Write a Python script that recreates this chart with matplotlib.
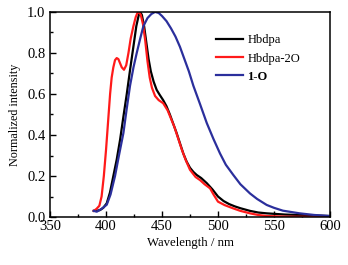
import numpy as np
import matplotlib
matplotlib.use('Agg')
import matplotlib.pyplot as plt
from matplotlib.ticker import MultipleLocator

# Hbdpa
wl_black = [389, 392, 394.6, 397.5, 400.6, 403.5, 406.5, 409.5, 412.5, 415.5, 418.5, 421.5, 424.4,
            427, 429, 430.4, 432, 434, 436, 438, 440, 442.5, 445.2, 448, 451, 454, 457, 460, 463,
            466, 469, 472, 475, 478, 481, 485, 490, 495, 500, 505, 510, 515, 520, 528.6, 536, 543.5,
            560, 573, 600]
y_black = [0.03, 0.031, 0.034, 0.045, 0.067, 0.12, 0.2, 0.28, 0.376, 0.49, 0.6, 0.72, 0.83,
           0.93, 0.98, 1.0, 0.985, 0.93, 0.85, 0.77, 0.71, 0.66, 0.62, 0.595, 0.57, 0.54, 0.5, 0.455, 0.41,
           0.36, 0.31, 0.27, 0.24, 0.22, 0.205, 0.19, 0.165, 0.135, 0.1, 0.078, 0.063, 0.052, 0.043, 0.03,
           0.022, 0.018, 0.012, 0.01, 0.005]

# Hbdpa-2O
wl_red = [389, 391.5, 394, 396, 398, 400, 402, 403.6, 405, 406.5, 408, 409.5, 411, 412.5, 414, 416,
          418, 420, 422, 424.4, 426.5, 428, 429.5, 431, 433, 435, 437, 439, 441, 443.8, 447, 451,
          455, 458, 461, 464, 467.6, 471, 475, 480, 484, 488, 492.9, 496, 500, 506, 513.7, 520,
          528.6, 536, 543.5, 560, 600]
y_red = [0.03, 0.04, 0.055, 0.1, 0.2, 0.33, 0.48, 0.6, 0.68, 0.73, 0.765, 0.775, 0.77, 0.75, 0.73, 0.718,
         0.74, 0.8, 0.87, 0.93, 0.975, 0.995, 1.0, 0.985, 0.94, 0.86, 0.76, 0.68, 0.63, 0.59, 0.57, 0.555,
         0.52, 0.48, 0.44, 0.39, 0.33, 0.28, 0.23, 0.195, 0.18, 0.16, 0.14, 0.11, 0.075, 0.058, 0.042, 0.03,
         0.018, 0.01, 0.005, 0.002, 0.0]

# 1-O
wl_blue = [389, 391.7, 396, 400.6, 404, 408, 411.5, 415.5, 418.5, 421.4, 424.5, 427.4, 430.5, 433.3,
           437, 440.5, 443.8, 447, 450, 454, 458, 462, 466, 470, 474, 478, 484, 490, 496, 501.8,
           507, 513.7, 520, 528.6, 535, 543.5, 550, 558, 573, 586, 600]
y_blue = [0.03, 0.026, 0.04, 0.06, 0.11, 0.2, 0.3, 0.41, 0.53, 0.64, 0.73, 0.8, 0.87, 0.93,
          0.97, 0.99, 1.0, 0.995, 0.98, 0.955, 0.92, 0.88, 0.83, 0.77, 0.71, 0.64, 0.55, 0.458, 0.38,
          0.31, 0.255, 0.205, 0.16, 0.115, 0.088, 0.059, 0.045, 0.031, 0.018, 0.01, 0.005]

plt.rcParams['font.family'] = ['Liberation Serif', 'DejaVu Serif']

fig = plt.figure(figsize=(3.48, 2.65), dpi=100)
ax = fig.add_axes([0.144, 0.181, 0.804, 0.774])

ax.plot(wl_black, y_black, color='black', lw=1.6, label='Hbdpa')
ax.plot(wl_red, y_red, color='#ff1a1a', lw=1.6, label='Hbdpa-2O')
ax.plot(wl_blue, y_blue, color='#2b2f9c', lw=1.6, label='1-O')

ax.set_xlim(350, 600)
ax.set_ylim(0, 1.0)
ax.xaxis.set_major_locator(MultipleLocator(50))
ax.xaxis.set_minor_locator(MultipleLocator(25))
ax.yaxis.set_major_locator(MultipleLocator(0.2))
ax.yaxis.set_minor_locator(MultipleLocator(0.1))
ax.tick_params(which='both', direction='in', labelsize=10.5, width=1)
ax.tick_params(which='major', length=4)
ax.tick_params(which='minor', length=2.5)
ax.tick_params(axis='x', pad=2)
for s in ax.spines.values():
    s.set_linewidth(1.1)

ax.set_xlabel('Wavelength / nm', fontsize=9.2, labelpad=3)
ax.set_ylabel('Normalized intensity', fontsize=8.7, labelpad=4)

leg = ax.legend(loc='upper left', bbox_to_anchor=(0.575, 0.915), frameon=False, fontsize=9,
                handlelength=2.2, handletextpad=0.3, labelspacing=0.5, borderaxespad=0)
leg.get_texts()[2].set_fontweight('bold')

fig.savefig('out.png', dpi=100)
